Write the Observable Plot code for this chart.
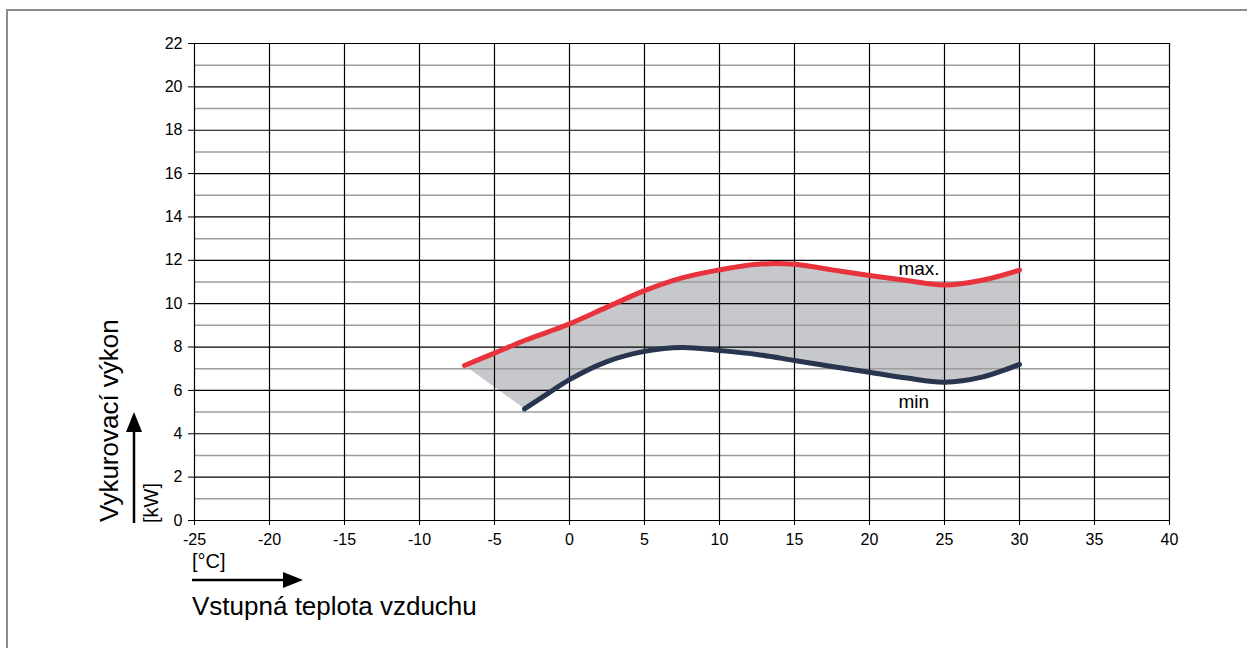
<!DOCTYPE html>
<html><head><meta charset="utf-8">
<script src="https://cdn.jsdelivr.net/npm/d3@7"></script>
<script src="https://cdn.jsdelivr.net/npm/@observablehq/plot@0.6"></script>
<style>html,body{margin:0;padding:0;background:#fff;} #chart{position:relative;width:1247px;height:648px;overflow:hidden}</style>
</head><body><div id="chart"></div>
<script>
// Air inlet temperature [°C] for the max curve
const tempMax = [-7, -5, -3, -1.5, 0, 2.5, 5, 7.5, 10, 12.5, 15, 17.5, 20, 22.5, 25, 27.5, 30];
// Max heating output [kW]
const maxKW = [7.15, 7.72, 8.3, 8.68, 9.07, 9.84, 10.6, 11.19, 11.56, 11.82, 11.82, 11.56, 11.3, 11.07, 10.86, 11.08, 11.55];
// Air inlet temperature [°C] for the min curve
const tempMin = [-3, -1.5, 0, 2.5, 5, 7.5, 10, 12.5, 15, 17.5, 20, 22.5, 25, 27.5, 30];
// Min heating output [kW]
const minKW = [5.15, 5.83, 6.5, 7.33, 7.8, 7.98, 7.84, 7.66, 7.38, 7.1, 6.84, 6.57, 6.38, 6.61, 7.2];

const xTicks = [-25, -20, -15, -10, -5, 0, 5, 10, 15, 20, 25, 30, 35, 40];
const yTicks = [0, 2, 4, 6, 8, 10, 12, 14, 16, 18, 20, 22];
const yMinor = [1, 3, 5, 7, 9, 11, 13, 15, 17, 19, 21];

const curveNames = ["max.", "min"];
const curveLabelX = [21.93, 21.93];
const curveLabelY = [11.3, 5.21];

const yTitle = "Vykurovací výkon";
const yUnit = "[kW]";
const xTitle = "Vstupná teplota vzduchu";
const xUnit = "[°C]";

// derived tables
const maxRows = tempMax.map((x, i) => ({x, y: maxKW[i]}));
const minRows = tempMin.map((x, i) => ({x, y: minKW[i]}));
const mainRows = tempMin.map((x, i) => ({x, lo: minKW[i], hi: maxKW[tempMax.indexOf(x)]}));
const leftRows = [
  {x: tempMax[0], lo: maxKW[0], hi: maxKW[0]},
  {x: tempMin[0], lo: minKW[0], hi: maxKW[tempMax.indexOf(tempMin[0])]}
];
const labelRows = curveNames.map((t, i) => ({t, x: curveLabelX[i], y: curveLabelY[i]}));

const FONT = "'Liberation Sans', Arial, Helvetica, sans-serif";
const FILL = "#c6c8cb";

const svg = Plot.plot({
  width: 1247, height: 648,
  marginLeft: 194, marginRight: 78, marginTop: 43, marginBottom: 128,
  style: {fontFamily: FONT, fontSize: "16px", color: "#000", background: "#fff", overflow: "visible"},
  x: {domain: [-25, 40]},
  y: {domain: [0, 22]},
  marks: [
    Plot.areaY(leftRows, {x: "x", y1: "lo", y2: "hi", fill: FILL, curve: "linear"}),
    Plot.areaY(mainRows, {x: "x", y1: "lo", y2: "hi", fill: FILL, curve: "catmull-rom"}),
    Plot.ruleY(yMinor, {stroke: "#9c9c9c", strokeWidth: 1.5}),
    Plot.ruleY(yTicks, {stroke: "#000", strokeWidth: 1.2}),
    Plot.ruleX(xTicks, {stroke: "#000", strokeWidth: 1.2}),
    Plot.axisX({ticks: xTicks, tickSize: 5, tickPadding: 8, label: null, fontSize: 16, tickFormat: d => String(d)}),
    Plot.axisY({ticks: yTicks, tickSize: 6, tickPadding: 6, label: null, fontSize: 16, tickFormat: d => String(d)}),
    Plot.line(maxRows, {x: "x", y: "y", stroke: "#e8333c", strokeWidth: 5, curve: "catmull-rom"}),
    Plot.line(minRows, {x: "x", y: "y", stroke: "#27354f", strokeWidth: 5, curve: "catmull-rom"}),
    Plot.text(labelRows, {x: "x", y: "y", text: "t", fontSize: 19, textAnchor: "start", lineAnchor: "bottom", fill: "#000"})
  ]
});
document.getElementById("chart").appendChild(svg);

const g = d3.select(svg).append("g").attr("font-family", FONT).attr("fill", "#000").attr("text-anchor", "start");
g.append("path").attr("d", "M7,660V10H1260").attr("fill", "none").attr("stroke", "#8c8c8c").attr("stroke-width", 2);
// y title and unit
g.append("text").attr("transform", "translate(118,522) rotate(-90)").attr("font-size", 26).text(yTitle);
g.append("text").attr("transform", "translate(158,523) rotate(-90)").attr("font-size", 20).text(yUnit);
g.append("line").attr("x1", 134).attr("x2", 134).attr("y1", 523).attr("y2", 428).attr("stroke", "#000").attr("stroke-width", 2.5);
g.append("path").attr("d", "M134,412L126,432L142,432Z").attr("fill", "#000");
// x title and unit
g.append("text").attr("x", 192).attr("y", 568).attr("font-size", 20).text(xUnit);
g.append("line").attr("x1", 192).attr("x2", 286).attr("y1", 580).attr("y2", 580).attr("stroke", "#000").attr("stroke-width", 2.5);
g.append("path").attr("d", "M303,580L283,572L283,588Z").attr("fill", "#000");
g.append("text").attr("x", 192).attr("y", 615).attr("font-size", 26).text(xTitle);
</script>
</body></html>
